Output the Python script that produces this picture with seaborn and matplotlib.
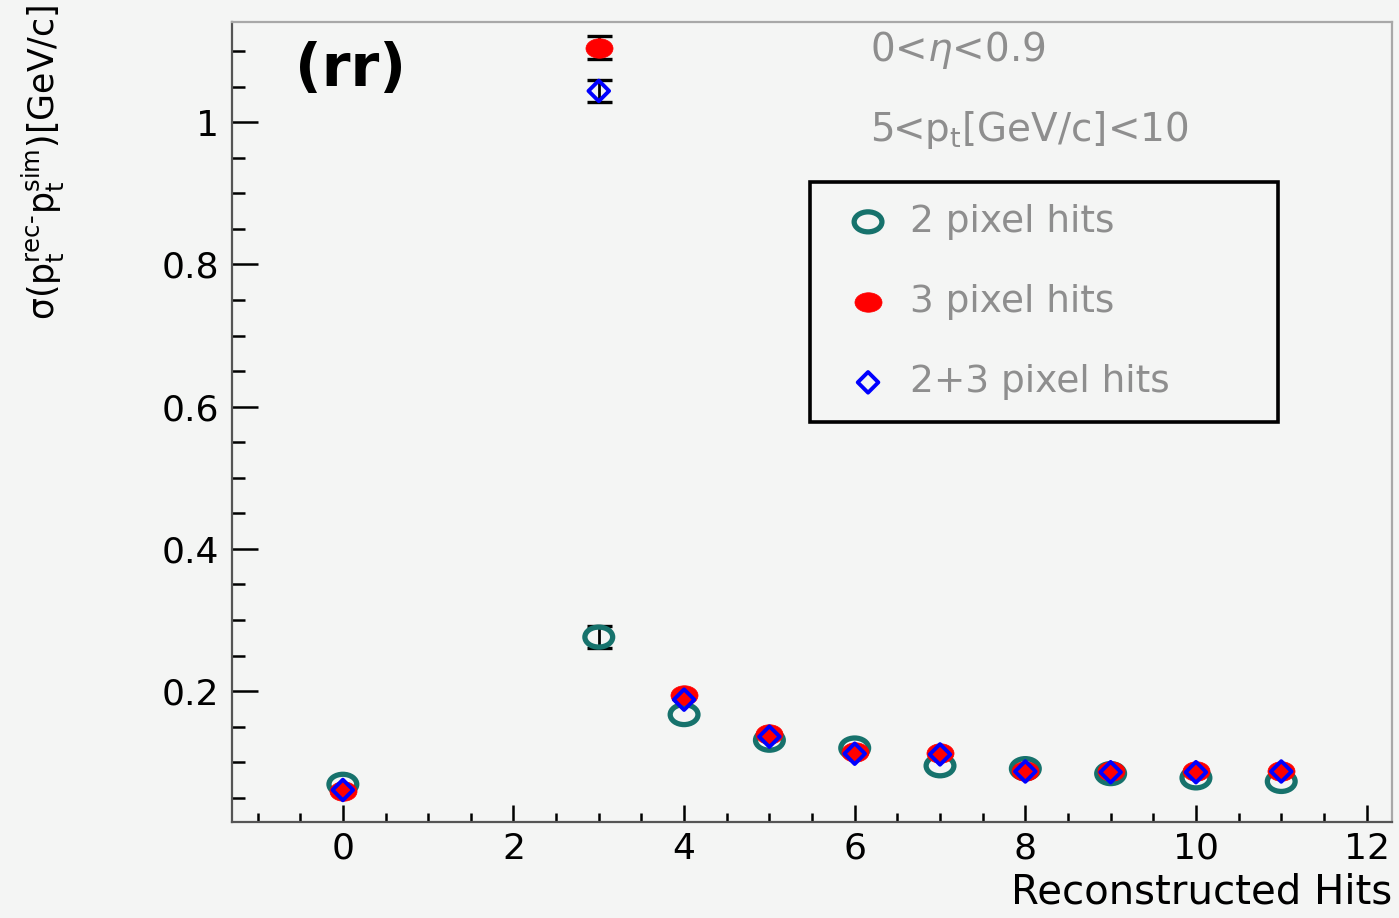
import numpy as np
import pandas as pd
import matplotlib
matplotlib.use("Agg")
import matplotlib.pyplot as plt
import seaborn as sns
from matplotlib.path import Path
from matplotlib.transforms import Affine2D
from matplotlib.ticker import MultipleLocator

# ---------------- data ----------------
hits = [0, 3, 4, 5, 6, 7, 8, 9, 10, 11]
two_pixel = [0.069, 0.276, 0.167, 0.131, 0.120, 0.095, 0.091, 0.084, 0.078, 0.073]
two_pixel_err = [0.0, 0.015, 0.0, 0.0, 0.0, 0.0, 0.0, 0.0, 0.0, 0.0]
three_pixel = [0.059, 1.105, 0.194, 0.140, 0.115, 0.113, 0.088, 0.087, 0.087, 0.088]
three_pixel_err = [0.0, 0.016, 0.0, 0.0, 0.0, 0.0, 0.0, 0.0, 0.0, 0.0]
both_pixel = [0.061, 1.044, 0.188, 0.136, 0.112, 0.111, 0.087, 0.086, 0.086, 0.087]
both_pixel_err = [0.0, 0.015, 0.0, 0.0, 0.0, 0.0, 0.0, 0.0, 0.0, 0.0]

labels = ["2 pixel hits", "3 pixel hits", "2+3 pixel hits"]
x_ticks = [0, 2, 4, 6, 8, 10, 12]
y_ticks = [0.2, 0.4, 0.6, 0.8, 1.0]
y_ticklabels = ["0.2", "0.4", "0.6", "0.8", "1"]

BG = "#f4f5f4"
TEAL = "#16726c"
RED = "#ff0000"
BLUE = "#0000ff"
GRAY_TXT = "#8e8e8e"

sns.set_theme(style="ticks")
plt.rcParams["font.family"] = ["DejaVu Sans"]
plt.rcParams["figure.facecolor"] = BG
plt.rcParams["axes.facecolor"] = BG
plt.rcParams["text.color"] = "black"
plt.rcParams["axes.labelcolor"] = "black"
plt.rcParams["xtick.color"] = "black"
plt.rcParams["ytick.color"] = "black"

fig = plt.figure(figsize=(13.99, 9.18), dpi=100)
ax = fig.add_axes([0.1658, 0.1046, 0.8293, 0.8715])

df = pd.DataFrame({"hits": hits, "two": two_pixel, "three": three_pixel, "both": both_pixel,
                   "two_err": two_pixel_err, "three_err": three_pixel_err,
                   "both_err": both_pixel_err})

ellipse = Path.unit_circle().transformed(Affine2D().scale(1.0, 0.72))

# error bars (only where visible outside the markers)
for ycol in ("two", "three", "both"):
    sub = df[df[ycol + "_err"] > 0]
    ax.errorbar(sub["hits"], sub[ycol], yerr=sub[ycol + "_err"], fmt="none", ecolor="black",
                elinewidth=2.0, capsize=9, capthick=2.4, zorder=2)

sns.scatterplot(data=df, x="hits", y="two", ax=ax, marker=ellipse, s=20 ** 2,
                color=TEAL, facecolor="none", edgecolor=TEAL, linewidth=3.8,
                label=labels[0], zorder=3)
sns.scatterplot(data=df, x="hits", y="three", ax=ax, marker=ellipse, s=19.5 ** 2,
                color=RED, edgecolor=RED, linewidth=0.5, label=labels[1], zorder=4)
sns.scatterplot(data=df, x="hits", y="both", ax=ax, marker="D", s=10.5 ** 2,
                color=BLUE, facecolor="none", edgecolor=BLUE, linewidth=2.8,
                label=labels[2], zorder=5)

ax.set_xlim(-1.3, 12.3)
ax.set_ylim(0.016, 1.141)
ax.set_xticks(x_ticks)
ax.set_xticklabels([str(t) for t in x_ticks])
ax.set_yticks(y_ticks)
ax.set_yticklabels(y_ticklabels)
ax.xaxis.set_minor_locator(MultipleLocator(0.5))
ax.yaxis.set_minor_locator(MultipleLocator(0.05))

ax.tick_params(axis="x", which="major", direction="in", length=12, width=1.8,
               color="black", labelcolor="black", labelsize=26, pad=7, top=False)
ax.tick_params(axis="x", which="minor", direction="in", length=6.5, width=1.8,
               color="black", top=False)
ax.tick_params(axis="y", which="major", direction="in", length=19, width=1.8,
               color="black", labelcolor="black", labelsize=26, pad=9, right=False)
ax.tick_params(axis="y", which="minor", direction="in", length=9.5, width=1.8,
               color="black", right=False)

for side in ("left", "bottom"):
    ax.spines[side].set_color("#555555")
    ax.spines[side].set_linewidth(1.6)
for side in ("top", "right"):
    ax.spines[side].set_visible(True)
    ax.spines[side].set_color("#a8a8a8")
    ax.spines[side].set_linewidth(1.6)

ax.set_xlabel("Reconstructed Hits", fontsize=29, loc="right", color="black")
ax.xaxis.set_label_coords(1.0, -0.063)
ax.set_ylabel(r"σ(p$_{\mathrm{t}}^{\text{rec-}}$p$_{\mathrm{t}}^{\mathrm{sim}}$)[GeV/c]",
              fontsize=25, loc="top", color="black")
ax.yaxis.set_label_coords(-0.142, 1.021)

ax.text(0.1026, 0.94, "(rr)", transform=ax.transAxes, fontsize=42,
        fontweight="bold", ha="center", va="center", color="black")
ax.text(0.55, 0.965, r"0<$\eta$<0.9", transform=ax.transAxes, fontsize=28,
        ha="left", va="center", color=GRAY_TXT)
ax.text(0.55, 0.865, r"5<p$_{\mathrm{t}}$[GeV/c]<10", transform=ax.transAxes, fontsize=28,
        ha="left", va="center", color=GRAY_TXT)

leg = ax.legend(loc="upper left", bbox_to_anchor=(0.498, 0.50, 0.4034, 0.30),
                bbox_transform=ax.transAxes, mode="expand",
                frameon=True, fancybox=False, fontsize=27, labelcolor=GRAY_TXT,
                labelspacing=1.18, borderpad=0.58, handlelength=1.95, handletextpad=0.15,
                borderaxespad=0.0, markerscale=1.0)
frame = leg.get_frame()
frame.set_edgecolor("black")
frame.set_linewidth(2.6)
frame.set_facecolor(BG)
frame.set_alpha(1.0)

fig.savefig("out.png", dpi=100, facecolor=BG)
